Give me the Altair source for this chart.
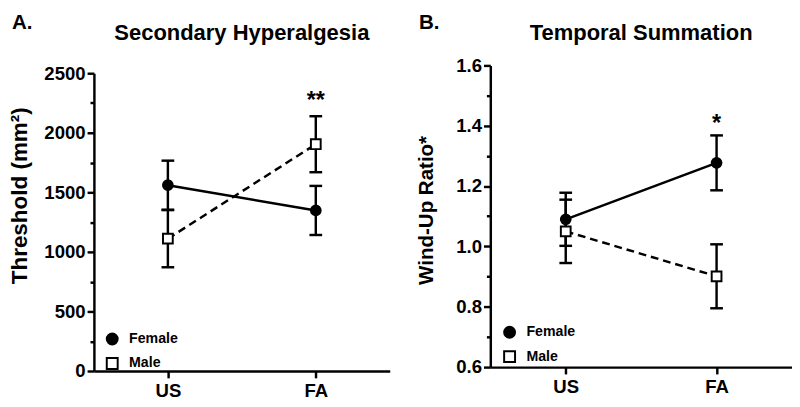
import altair as alt
import pandas as pd

categories = ["US", "FA"]
sexes = ["Female", "Male"]
panel_letters = ["A.", "B."]
panel_titles = ["Secondary Hyperalgesia", "Temporal Summation"]
y_titles = ["Threshold (mm²)", "Wind-Up Ratio*"]

# Panel A: Secondary hyperalgesia threshold (mean, SEM)
thr_female_mean = [1560, 1348]
thr_female_sem = [206, 206]
thr_male_mean = [1111, 1904]
thr_male_sem = [240, 235]
thr_ticks = [0, 250, 500, 750, 1000, 1250, 1500, 1750, 2000, 2250, 2500]
thr_sig_label = ["**"]
thr_sig_cat = ["FA"]
thr_sig_y = [2311]

# Panel B: Temporal summation wind-up ratio (mean, SEM)
wu_female_mean = [1.09, 1.277]
wu_female_sem = [0.088, 0.091]
wu_male_mean = [1.05, 0.901]
wu_male_sem = [0.105, 0.106]
wu_ticks = [0.6, 0.7, 0.8, 0.9, 1.0, 1.1, 1.2, 1.3, 1.4, 1.5, 1.6]
wu_sig_label = ["*"]
wu_sig_cat = ["FA"]
wu_sig_y = [1.425]

FONT = "Liberation Sans"


def make_df(fm, fs, mm, ms):
    rows = []
    for i, c in enumerate(categories):
        rows.append(dict(cond=c, sex="Female", mean=fm[i], lo=fm[i] - fs[i], hi=fm[i] + fs[i]))
        rows.append(dict(cond=c, sex="Male", mean=mm[i], lo=mm[i] - ms[i], hi=mm[i] + ms[i]))
    return pd.DataFrame(rows)


def panel(df, sig_df, ydomain, yvals, major_test, label_expr, ytitle, ytitle_size, ytitle_y,
          title, letter, letter_xy, title_y, legend_xy, width, height, top, title_pad):
    xaxis = alt.Axis(title=None, labelFontSize=19, labelFontWeight="bold", tickSize=7,
                     labelPadding=4, labelAngle=0, ticks=True)
    xscale = alt.Scale(type="point", domain=categories, padding=0.5)
    yscale = alt.Scale(domain=ydomain, nice=False, zero=False, range=[height, top])
    yaxis = alt.Axis(values=yvals, labelExpr=label_expr, labelOverlap=False,
                     tickSize={"condition": {"test": major_test, "value": 7}, "value": 4},
                     title=ytitle, titleFontSize=ytitle_size, titleFontWeight="bold",
                     titlePadding=title_pad, titleY=ytitle_y, labelFontSize=19,
                     labelFontWeight="bold", labelPadding=2, grid=False)

    def X():
        return alt.X("cond:N", scale=xscale, axis=xaxis, sort=categories)

    def Y(f):
        return alt.Y(f, scale=yscale, axis=yaxis)

    leg = alt.Legend(title=None, orient="none", legendX=legend_xy[0], legendY=legend_xy[1],
                     labelFontSize=14.5, labelFontWeight="bold", labelColor="black",
                     symbolSize=125, symbolStrokeWidth=2,
                     rowPadding=5, labelOffset=10, padding=0)

    base = alt.Chart(df)
    rules = base.mark_rule(strokeWidth=2.5, color="black").encode(
        x=X(), y=Y("lo:Q"), y2="hi:Q")
    cap_lo = base.mark_tick(size=13, thickness=2.5, color="black", opacity=1).encode(
        x=X(), y=Y("lo:Q"))
    cap_hi = base.mark_tick(size=13, thickness=2.5, color="black", opacity=1).encode(
        x=X(), y=Y("hi:Q"))
    line_f = base.transform_filter(alt.datum.sex == sexes[0]).mark_line(
        strokeWidth=2.5, color="black").encode(x=X(), y=Y("mean:Q"))
    line_m = base.transform_filter(alt.datum.sex == sexes[1]).mark_line(
        strokeWidth=2.5, color="black", strokeDash=[8, 5]).encode(x=X(), y=Y("mean:Q"))
    points = base.mark_point(filled=True, strokeWidth=2, size=100, opacity=1).encode(
        x=X(), y=Y("mean:Q"),
        stroke=alt.Stroke("sex:N", scale=alt.Scale(domain=sexes, range=["black", "black"]), legend=leg),
        shape=alt.Shape("sex:N", scale=alt.Scale(domain=sexes, range=["circle", "square"]), legend=leg),
        fill=alt.Fill("sex:N", scale=alt.Scale(domain=sexes, range=["black", "white"]), legend=leg))
    sig = alt.Chart(sig_df).mark_text(font=FONT, fontSize=24, fontWeight="bold", color="black",
                                      baseline="middle", dy=6).encode(
        x=X(), y=Y("y:Q"), text="label:N")
    let = alt.Chart(pd.DataFrame({"t": [letter]})).mark_text(
        font=FONT, fontSize=21, fontWeight="bold", color="black", align="left",
        baseline="alphabetic").encode(x=alt.value(letter_xy[0]), y=alt.value(letter_xy[1]), text="t:N")
    ttl = alt.Chart(pd.DataFrame({"t": [title]})).mark_text(
        font=FONT, fontSize=22.5, fontWeight="bold", color="black", align="center",
        baseline="alphabetic").encode(x=alt.value(width / 2), y=alt.value(title_y), text="t:N")

    return alt.layer(rules, cap_lo, cap_hi, line_f, line_m, points, sig, let, ttl).properties(
        width=width, height=height)


df_a = make_df(thr_female_mean, thr_female_sem, thr_male_mean, thr_male_sem)
df_b = make_df(wu_female_mean, wu_female_sem, wu_male_mean, wu_male_sem)
sig_a = pd.DataFrame({"cond": thr_sig_cat, "y": thr_sig_y, "label": thr_sig_label})
sig_b = pd.DataFrame({"cond": wu_sig_cat, "y": wu_sig_y, "label": wu_sig_label})

left = panel(df_a, sig_a, [0, 2500], thr_ticks, "datum.value % 500 === 0",
             "datum.value % 500 === 0 ? format(datum.value, 'd') : ''",
             y_titles[0], 23, 136, panel_titles[0], panel_letters[0], (-84, -34), -23,
             (11.5, 276), 303, 316, 11, 13)
right = panel(df_b, sig_b, [0.6, 1.6], wu_ticks, "round(datum.value * 10) % 2 === 0",
              "round(datum.value * 10) % 2 === 0 ? format(datum.value, '.1f') : ''",
              y_titles[1], 21, 151, panel_titles[1], panel_letters[1], (-73, -34), -23,
              (12.5, 269), 309, 312, 3, 20)

chart = alt.hconcat(left, right, spacing=26).properties(padding=0).resolve_scale(
    shape="independent", fill="independent", stroke="independent"
).resolve_legend(shape="independent", fill="independent", stroke="independent").configure(
    font=FONT
).configure_view(stroke=None).configure_axis(
    domainColor="black", domainWidth=2.5, tickColor="black", tickWidth=2.5,
    labelColor="black", titleColor="black", labelFont=FONT, titleFont=FONT
)

chart.save("out.html", embed_options={"renderer": "svg", "actions": False})
